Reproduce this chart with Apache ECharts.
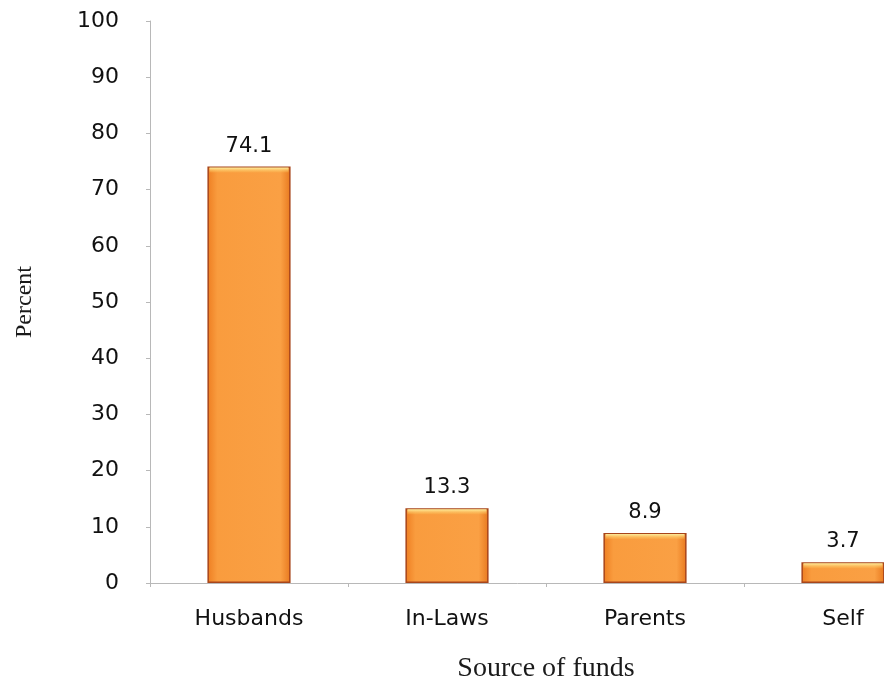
<!DOCTYPE html>
<html>
<head>
<meta charset="utf-8">
<script src="https://cdn.jsdelivr.net/npm/echarts@6/dist/echarts.min.js"></script>
<style>
  html, body { margin: 0; padding: 0; background: #ffffff; }
  #chart { width: 884px; height: 687px; }
</style>
</head>
<body>
<div id="chart"></div>
<script>
// Source of funds (percent of respondents)
const categories = ['Husbands', 'In-Laws', 'Parents', 'Self'];
const percents = [74.1, 13.3, 8.9, 3.7];
const yTicks = [0, 10, 20, 30, 40, 50, 60, 70, 80, 90, 100];

const chart = echarts.init(document.getElementById('chart'), null, { renderer: 'canvas' });

const sans = '"DejaVu Sans", Verdana, sans-serif';
const serif = '"Liberation Serif", "Times New Roman", serif';

const barFill = new echarts.graphic.LinearGradient(0, 0, 1, 0, [
  { offset: 0, color: '#EE7E22' },
  { offset: 0.12, color: '#F99C3E' },
  { offset: 0.88, color: '#FAA044' },
  { offset: 1, color: '#E8781E' }
]);

chart.setOption({
  backgroundColor: '#ffffff',
  animation: false,
  // plot area runs past the right edge, so the last bar is cut off
  grid: {
    left: 150, width: 792, top: 21, bottom: 104,
    containLabel: false,
    outerBoundsMode: 'none'
  },
  xAxis: {
    type: 'category',
    data: categories,
    name: 'Source of funds',
    nameLocation: 'middle',
    nameGap: 72,
    nameTextStyle: { fontFamily: serif, fontSize: 28, color: '#1a1a1a' },
    axisLine: { lineStyle: { color: '#b8b8b8', width: 1 } },
    axisTick: { show: true, length: 4, lineStyle: { color: '#b8b8b8' } },
    axisLabel: { fontFamily: sans, fontSize: 22, color: '#111111', margin: 25 }
  },
  yAxis: {
    type: 'value',
    min: yTicks[0],
    max: yTicks[yTicks.length - 1],
    interval: yTicks[1] - yTicks[0],
    name: 'Percent',
    nameLocation: 'middle',
    nameGap: 113,
    nameRotate: 90,
    nameTextStyle: { fontFamily: serif, fontSize: 24, color: '#1a1a1a' },
    axisLine: { show: true, lineStyle: { color: '#b8b8b8', width: 1 } },
    axisTick: { show: true, length: 4, lineStyle: { color: '#b8b8b8' } },
    splitLine: { show: false },
    axisLabel: { fontFamily: sans, fontSize: 22, color: '#111111', margin: 31 }
  },
  series: [
    {
      type: 'bar',
      data: percents,
      barWidth: '42%',
      itemStyle: { color: barFill, borderColor: '#A8451A', borderWidth: 1.5 },
      label: {
        show: true,
        position: 'top',
        distance: 10,
        fontFamily: sans,
        fontSize: 21,
        color: '#111111',
        formatter: p => p.value.toFixed(1)
      },
      z: 2
    },
    {
      // bevel highlight along the top edge of each bar
      type: 'custom',
      data: percents.map((v, i) => [i, v]),
      silent: true,
      z: 3,
      renderItem: function (params, api) {
        const top = api.coord([api.value(0), api.value(1)]);
        const band = api.size([1, 0])[0];
        const w = band * 0.42;
        return {
          type: 'rect',
          shape: { x: top[0] - w / 2 + 2, y: top[1] + 1, width: w - 4, height: 5 },
          style: {
            fill: new echarts.graphic.LinearGradient(0, 0, 0, 1, [
              { offset: 0, color: '#FFF0A0' },
              { offset: 1, color: 'rgba(252,196,90,0.2)' }
            ])
          }
        };
      }
    }
  ]
});
</script>
</body>
</html>
